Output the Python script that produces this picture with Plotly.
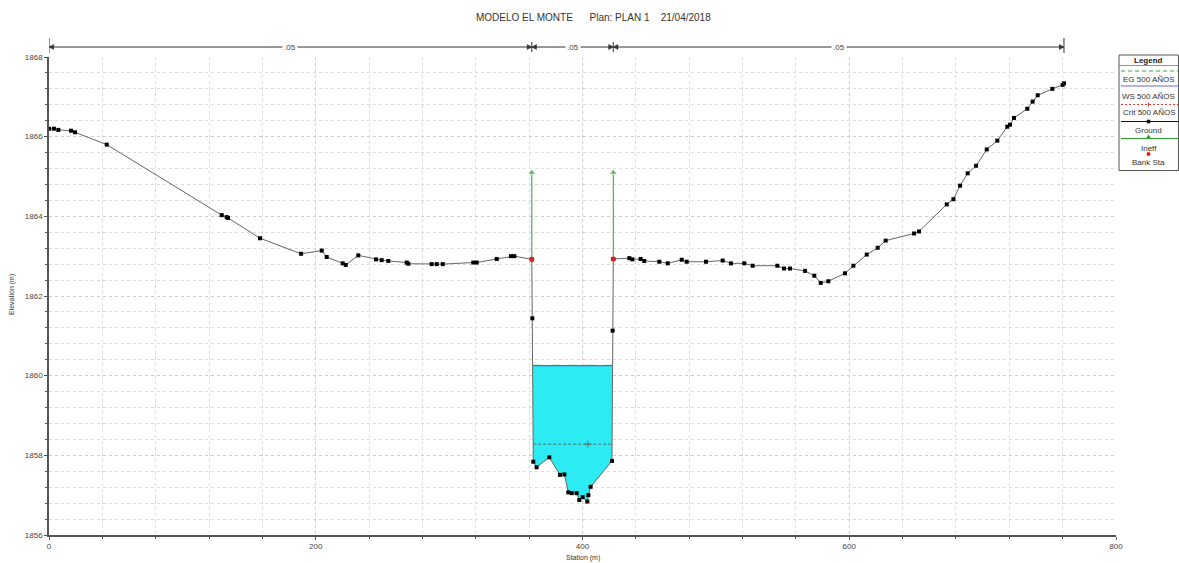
import plotly.graph_objects as go

# ---------------- data ----------------
STATION = [0.0, 3.7, 7.0, 16.5, 19.5, 43.3, 129.5, 133.2, 134.2, 158.2, 189.0, 204.5,
           208.2, 220.2, 222.5, 231.9, 245.2, 249.4, 254.4, 268.2, 269.4, 286.9, 290.7,
           295.2, 318.1, 320.7, 335.7, 346.4, 348.9, 362.0, 362.4, 363.1, 365.6, 375.1,
           383.1, 386.4, 389.4, 391.9, 395.6, 397.6, 400.1, 403.6, 404.4, 406.1, 422.1,
           422.6, 423.1, 435.1, 437.4, 443.6, 446.3, 457.6, 463.9, 474.4, 478.1, 492.6,
           505.1, 511.3, 521.3, 527.6, 546.1, 551.1, 555.6, 566.8, 573.8, 578.6, 584.3,
           596.8, 603.1, 613.1, 621.3, 627.3, 648.6, 652.3, 673.1, 678.1, 683.1, 688.8,
           695.1, 703.1, 711.0, 718.5, 720.5, 723.5, 733.5, 737.5, 741.3, 752.3, 760.0,
           761.0]
ELEV = [1866.20, 1866.20, 1866.17, 1866.15, 1866.11, 1865.80, 1864.03, 1863.98, 1863.96,
        1863.45, 1863.06, 1863.14, 1862.98, 1862.82, 1862.78, 1863.02, 1862.92, 1862.90,
        1862.88, 1862.84, 1862.81, 1862.80, 1862.80, 1862.80, 1862.84, 1862.84, 1862.93,
        1863.00, 1863.00, 1862.92, 1861.44, 1857.84, 1857.70, 1857.95, 1857.51, 1857.52,
        1857.07, 1857.05, 1857.05, 1856.88, 1856.95, 1856.84, 1857.00, 1857.21, 1857.86,
        1861.13, 1862.93, 1862.95, 1862.92, 1862.93, 1862.88, 1862.86, 1862.82, 1862.91,
        1862.86, 1862.86, 1862.89, 1862.82, 1862.82, 1862.76, 1862.76, 1862.69, 1862.69,
        1862.63, 1862.51, 1862.33, 1862.37, 1862.57, 1862.76, 1863.04, 1863.21, 1863.39,
        1863.57, 1863.62, 1864.30, 1864.43, 1864.77, 1865.08, 1865.27, 1865.68, 1865.90,
        1866.25, 1866.30, 1866.47, 1866.70, 1866.88, 1867.04, 1867.20, 1867.30, 1867.34]
BANK_STA = [362.0, 423.1]
WS_ELEV = 1860.25
EG_ELEV = 1860.28
CRIT_ELEV = 1858.28
CRIT_MARK_STA = 404.0
INEFF_ELEV = 1865.10
N_BREAKS = [0.0, 362.0, 423.1, 761.0]
N_LABELS = [".05", ".05", ".05"]
LEGEND_ITEMS = ["EG 500 AÑOS", "WS 500 AÑOS", "Crit 500 AÑOS", "Ground", "Ineff", "Bank Sta"]

TITLE = "MODELO EL MONTE      Plan: PLAN 1    21/04/2018"
FONT = "Liberation Sans"

# ---------------- helpers ----------------
def interp(x, xs, ys):
    for i in range(len(xs) - 1):
        if xs[i] <= x <= xs[i + 1]:
            if xs[i + 1] == xs[i]:
                return ys[i]
            t = (x - xs[i]) / (xs[i + 1] - xs[i])
            return ys[i] + t * (ys[i + 1] - ys[i])
    return ys[-1]


def wet_polygon(sta, el, level, lo, hi):
    pts = [(s, e) for s, e in zip(sta, el) if lo <= s <= hi]
    xs, ys = [], []
    for (s0, e0), (s1, e1) in zip(pts[:-1], pts[1:]):
        if e0 <= level:
            xs.append(s0); ys.append(e0)
        if (e0 - level) * (e1 - level) < 0:
            t = (level - e0) / (e1 - e0)
            xs.append(s0 + t * (s1 - s0)); ys.append(level)
    if pts[-1][1] <= level:
        xs.append(pts[-1][0]); ys.append(pts[-1][1])
    return xs, ys


# page geometry (body margin removed by post_script)
L, R, T, B = 49, 1116, 57, 535          # plot area in page pixels
W, H = 1179, 563                        # figure size


def px(xp):
    return (xp - L) / (R - L)


def py(yp):
    return (B - yp) / (B - T)


# ---------------- traces ----------------
fig = go.Figure()

wx, wy = wet_polygon(STATION, ELEV, WS_ELEV, BANK_STA[0], BANK_STA[1])
fig.add_trace(go.Scatter(x=wx, y=wy, fill="toself", fillcolor="#2DEBF3",
                         mode="lines", line=dict(width=0), hoverinfo="skip",
                         showlegend=False))

cx, cy = wet_polygon(STATION, ELEV, CRIT_ELEV, BANK_STA[0], BANK_STA[1])
fig.add_trace(go.Scatter(x=[cx[0], CRIT_MARK_STA, cx[-1]], y=[CRIT_ELEV] * 3,
                         mode="lines+markers",
                         line=dict(color="#6a4a4a", width=0.8, dash="3px,2px"),
                         marker=dict(symbol="cross-thin", size=[0, 5, 0],
                                     line=dict(color="#6a4a4a", width=1)),
                         showlegend=False))

fig.add_trace(go.Scatter(x=[wx[0], wx[-1]], y=[EG_ELEV, EG_ELEV], mode="lines",
                         line=dict(color="#d8f4d8", width=1.2, dash="dash"),
                         showlegend=False))
fig.add_trace(go.Scatter(x=[wx[0], wx[-1]], y=[WS_ELEV, WS_ELEV], mode="lines",
                         line=dict(color="#4a6ad8", width=1.3), showlegend=False))

fig.add_trace(go.Scatter(x=STATION, y=ELEV, mode="lines+markers",
                         line=dict(color="#666666", width=1),
                         marker=dict(symbol="square", size=4, color="black"),
                         showlegend=False))

bank_el = [interp(b, STATION, ELEV) for b in BANK_STA]
ix, iy, isz = [], [], []
for b, e in zip(BANK_STA, bank_el):
    ix += [b, b, None]; iy += [e, INEFF_ELEV, None]; isz += [0, 7, 0]
fig.add_trace(go.Scatter(x=ix, y=iy, mode="lines+markers",
                         line=dict(color="#2e9e2e", width=1),
                         marker=dict(symbol="triangle-up", size=isz, color="#2e9e2e"),
                         showlegend=False))

fig.add_trace(go.Scatter(x=BANK_STA, y=bank_el, mode="markers",
                         marker=dict(symbol="circle", size=5, color="#e02020"),
                         showlegend=False))

# ---------------- n-value bar above plot ----------------
shapes, annos = [], []
ybar = py(47)
for i, lab in enumerate(N_LABELS):
    x0, x1 = N_BREAKS[i], N_BREAKS[i + 1]
    shapes.append(dict(type="line", xref="x", yref="paper", x0=x0, x1=x1,
                       y0=ybar, y1=ybar, line=dict(color="#333", width=1)))
    annos.append(dict(x=(x0 + x1) / 2, y=ybar, xref="x", yref="paper", text=lab,
                      xanchor="center", yanchor="middle",
                      showarrow=False, bgcolor="white", borderpad=1,
                      font=dict(size=8, color="#444", family=FONT)))
    ah = 3.5
    hh = 2.5 / (B - T)
    shapes.append(dict(type="path", xref="x", yref="paper",
                       path=f"M {x0} {ybar} L {x0 + ah} {ybar + hh} L {x0 + ah} {ybar - hh} Z",
                       fillcolor="#333", line=dict(color="#333", width=0.5)))
    shapes.append(dict(type="path", xref="x", yref="paper",
                       path=f"M {x1} {ybar} L {x1 - ah} {ybar + hh} L {x1 - ah} {ybar - hh} Z",
                       fillcolor="#333", line=dict(color="#333", width=0.5)))
for j, bx in enumerate(N_BREAKS):
    end = j in (0, len(N_BREAKS) - 1)
    shapes.append(dict(type="line", xref="x", yref="paper", x0=bx, x1=bx,
                       y0=py(53) if end else py(52), y1=py(38) if end else py(42),
                       line=dict(color="#333", width=1)))

# ---------------- custom legend ----------------
lx0, lx1 = px(1119), px(1178.5)
shapes.append(dict(type="rect", xref="paper", yref="paper", x0=lx0, x1=lx1,
                   y0=py(170.5), y1=py(55), line=dict(color="#555", width=1),
                   fillcolor="white", layer="above"))
shapes.append(dict(type="line", xref="paper", yref="paper", x0=lx0, x1=lx1,
                   y0=py(65.5), y1=py(65.5), line=dict(color="#777", width=0.8),
                   layer="above"))
lcx = px(1148.5)
annos.append(dict(x=lcx, y=py(60), xref="paper", yref="paper", text="<b>Legend</b>",
                  xanchor="center", yanchor="middle",
                  showarrow=False, font=dict(size=8, color="#222", family=FONT)))
sym_y = [71, 86, 104.5, 121.5, 138.5, 154]
txt_y = [79.5, 96, 112, 130, 148, 162]
sym_styles = [
    dict(color="#3aa63a", width=1, dash="4px,3px"),
    dict(color="#6b6bd0", width=1.2),
    dict(color="#e04040", width=1, dash="2px,2px"),
    dict(color="#111", width=1),
    dict(color="#2e9e2e", width=1),
    None,
]
for k, name in enumerate(LEGEND_ITEMS):
    st = sym_styles[k]
    if st is not None:
        shapes.append(dict(type="line", xref="paper", yref="paper", x0=px(1121), x1=lx1,
                           y0=py(sym_y[k]), y1=py(sym_y[k]), line=st, layer="above"))
    annos.append(dict(x=px(1149), y=py(txt_y[k]), xref="paper", yref="paper", text=name,
                      xanchor="center", yanchor="middle",
                      showarrow=False, font=dict(size=8, color="#333", family=FONT)))


def sq(cx_px, cy_px, half, color):
    return dict(type="rect", xref="paper", yref="paper", x0=px(cx_px - half), x1=px(cx_px + half),
                y0=py(cy_px + half), y1=py(cy_px - half), fillcolor=color,
                line=dict(width=0), layer="above")


shapes.append(sq(1148.5, sym_y[3], 1.8, "#111"))
shapes.append(dict(type="path", xref="paper", yref="paper", layer="above",
                   path=f"M {px(1148.5)} {py(sym_y[4] - 4)} L {px(1151.5)} {py(sym_y[4] + 0.5)} "
                        f"L {px(1145.5)} {py(sym_y[4] + 0.5)} Z",
                   fillcolor="#2e9e2e", line=dict(width=0)))
shapes.append(dict(type="circle", xref="paper", yref="paper", layer="above",
                   x0=px(1146.5), x1=px(1150.5), y0=py(sym_y[5] + 2), y1=py(sym_y[5] - 2),
                   fillcolor="#e02020", line=dict(width=0)))
shapes.append(dict(type="line", xref="paper", yref="paper", layer="above",
                   x0=px(1148.5), x1=px(1148.5), y0=py(sym_y[2] + 2), y1=py(sym_y[2] - 2),
                   line=dict(color="#e04040", width=1)))

# title and axis titles
annos.append(dict(x=px(593), y=py(18), xref="paper", yref="paper", text=TITLE,
                  xanchor="center", yanchor="middle",
                  showarrow=False, font=dict(size=10, color="#333", family=FONT)))
annos.append(dict(x=px(12), y=py(295), xref="paper", yref="paper", text="Elevation (m)",
                  xanchor="center", yanchor="middle",
                  showarrow=False, textangle=-90,
                  font=dict(size=7, color="#333", family=FONT)))
annos.append(dict(x=px(583), y=py(558), xref="paper", yref="paper", text="Station (m)",
                  xanchor="center", yanchor="middle",
                  showarrow=False, font=dict(size=7, color="#333", family=FONT)))

axis_common = dict(showline=True, linecolor="#555", linewidth=1.5, zeroline=False,
                   ticks="outside", ticklen=3, tickcolor="#555", showgrid=True,
                   gridcolor="#cdcdcd", griddash="dot", gridwidth=1,
                   tickfont=dict(size=8, color="#444", family=FONT))

fig.update_layout(
    width=W, height=H,
    margin=dict(l=L, r=W - R, t=T, b=H - B),
    paper_bgcolor="white", plot_bgcolor="white",
    showlegend=False,
    shapes=shapes, annotations=annos,
    xaxis=dict(range=[0, 800], tick0=0, dtick=200,
               minor=dict(dtick=40, showgrid=True, gridcolor="#dcdcdc", griddash="dot",
                          ticks="outside", ticklen=2, tickcolor="#555"),
               **axis_common),
    yaxis=dict(range=[1856, 1868], tick0=1856, dtick=2,
               minor=dict(dtick=0.4, showgrid=True, gridcolor="#dcdcdc", griddash="dot",
                          ticks="outside", ticklen=2, tickcolor="#555"),
               **axis_common),
)

fig.write_html("out.html",
               config={"displayModeBar": False},
               post_script="document.body.style.margin='0';"
                           "document.body.style.overflow='hidden';")
